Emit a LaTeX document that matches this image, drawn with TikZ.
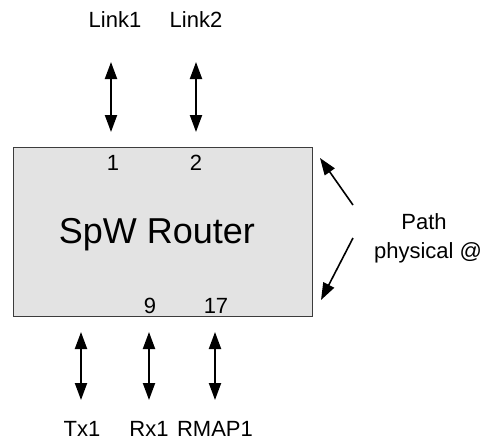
\documentclass[tikz,border=0pt]{standalone}
\usepackage{fontspec}
\setmainfont{Liberation Sans}
\usetikzlibrary{arrows.meta}
\definecolor{routerfill}{RGB}{227,227,227}
\definecolor{routerline}{RGB}{60,60,60}
\tikzset{
  lbl/.style={font=\fontsize{22}{26}\selectfont, inner sep=0pt, anchor=base},
  biarrow/.style={{Triangle[length=17pt,width=12pt]}-{Triangle[length=17pt,width=12pt]}, line width=2pt},
  pointer/.style={-{Triangle[length=17pt,width=12pt]}, line width=1.6pt}
}
\begin{document}
\begin{tikzpicture}[x=1pt,y=-1pt]
\useasboundingbox (0,0) rectangle (482,440);
% router box
\node[draw=routerline, fill=routerfill, line width=1.4pt, inner sep=0pt, anchor=north west,
  minimum width=299pt, minimum height=169pt] (router) at (13,147) {};
\node[font=\fontsize{36}{40}\selectfont, inner sep=0pt, anchor=base] (name) at (157,243) {SpW Router};

% port numbers
\node[lbl] (p1) at (113,170) {1};
\node[lbl] (p2) at (196,170) {2};
\node[lbl] (p9) at (150,313) {9};
\node[lbl] (p17) at (216,313) {17};

% top links
\node[lbl] (link1) at (115,27) {Link1};
\node[lbl] (link2) at (196,27) {Link2};
\coordinate (l1a) at (111,62);  \coordinate (l1b) at (111,132);
\coordinate (l2a) at (196,62);  \coordinate (l2b) at (196,132);
\draw[biarrow] (l1a) -- (l1b);
\draw[biarrow] (l2a) -- (l2b);

% bottom links
\node[lbl] (tx) at (82,436) {Tx1};
\node[lbl] (rx) at (149,436) {Rx1};
\node[lbl] (rmap) at (215,436) {RMAP1};
\coordinate (txa) at (81,332);   \coordinate (txb) at (81,400);
\coordinate (rxa) at (149,332);  \coordinate (rxb) at (149,400);
\coordinate (rma) at (215,332);  \coordinate (rmb) at (215,400);
\draw[biarrow] (txa) -- (txb);
\draw[biarrow] (rxa) -- (rxb);
\draw[biarrow] (rma) -- (rmb);

% path label
\node[lbl] (path) at (424,229) {Path};
\node[lbl] (phys) at (428,258) {physical @};
\coordinate (upfrom) at (353,205);  \coordinate (upto) at (320,158);
\coordinate (dnfrom) at (353,238);  \coordinate (dnto) at (321,300);
\draw[pointer] (upfrom) -- (upto);
\draw[pointer] (dnfrom) -- (dnto);
\end{tikzpicture}
\end{document}
